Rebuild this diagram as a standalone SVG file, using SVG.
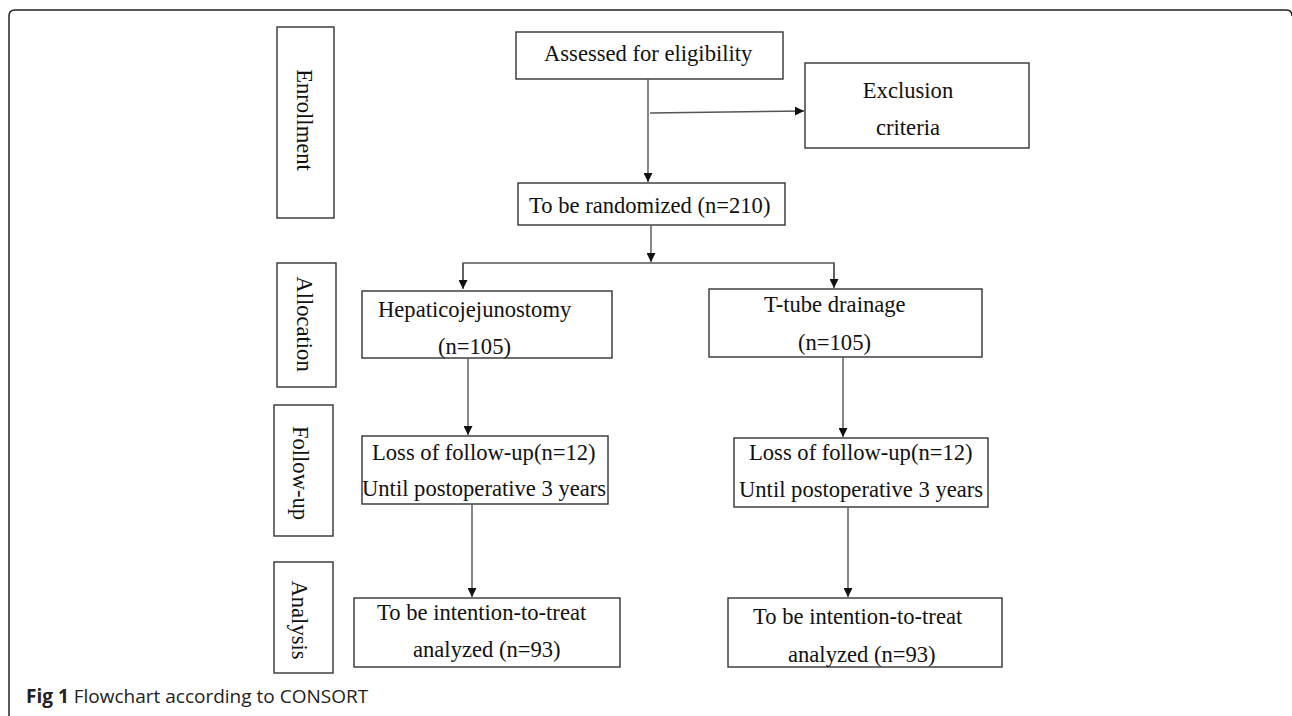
<svg xmlns="http://www.w3.org/2000/svg" width="1292" height="716" viewBox="0 0 1292 716">
<style>
.box{fill:#fff;stroke:#333;stroke-width:1.4}
.t{font-family:"Liberation Serif","Times New Roman",serif;font-size:22.6px;fill:#111}
.m{text-anchor:middle}
.ln{fill:none;stroke:#555;stroke-width:1.4}
.cap{font-family:"Open Sans","Liberation Sans",sans-serif;font-size:19px;fill:#222}
</style>
<defs>
<marker id="ah" viewBox="0 0 10 10" refX="10" refY="5" markerWidth="9" markerHeight="9" markerUnits="userSpaceOnUse" orient="auto">
<path d="M0,0 L10,5 L0,10 Z" fill="#111"/>
</marker>
</defs>
<rect width="1292" height="716" fill="#fff"/>
<path d="M9,716 V16 Q9,10 15,10 H1286 Q1292,10 1292,16" fill="none" stroke="#222" stroke-width="1.5"/>

<g id="stage-enrollment">
<rect class="box" x="277" y="27" width="57" height="191"/>
<text class="t m" transform="translate(297,120) rotate(90)">Enrollment</text>
</g>
<g id="stage-allocation">
<rect class="box" x="277" y="263" width="59" height="124"/>
<text class="t m" transform="translate(297,324) rotate(90)">Allocation</text>
</g>
<g id="stage-followup">
<rect class="box" x="274" y="405" width="59" height="131"/>
<text class="t m" transform="translate(293,473) rotate(90)">Follow-up</text>
</g>
<g id="stage-analysis">
<rect class="box" x="274" y="562" width="59" height="111"/>
<text class="t m" transform="translate(292,620) rotate(90)">Analysis</text>
</g>

<g id="assessed">
<rect class="box" x="516" y="32" width="267" height="47"/>
<text class="t" x="544" y="61">Assessed for eligibility</text>
</g>
<g id="exclusion">
<rect class="box" x="805" y="63" width="224" height="85"/>
<text class="t m" x="908" y="98">Exclusion</text>
<text class="t m" x="908" y="135">criteria</text>
</g>
<g id="randomized">
<rect class="box" x="518" y="183" width="267" height="42"/>
<text class="t" x="529" y="213">To be randomized (n=210)</text>
</g>
<g id="hepatico">
<rect class="box" x="362" y="291" width="250" height="67"/>
<text class="t" x="378" y="317">Hepaticojejunostomy</text>
<text class="t" x="438" y="354">(n=105)</text>
</g>
<g id="ttube">
<rect class="box" x="709" y="289" width="273" height="68"/>
<text class="t" x="764" y="312">T-tube drainage</text>
<text class="t" x="798" y="350">(n=105)</text>
</g>
<g id="loss-left">
<rect class="box" x="362" y="436" width="246" height="68"/>
<text class="t" x="372" y="460">Loss of follow-up(n=12)</text>
<text class="t" x="362" y="496">Until postoperative 3 years</text>
</g>
<g id="loss-right">
<rect class="box" x="734" y="438" width="254" height="69"/>
<text class="t" x="749" y="460">Loss of follow-up(n=12)</text>
<text class="t" x="739" y="497">Until postoperative 3 years</text>
</g>
<g id="analysis-left">
<rect class="box" x="354" y="598" width="266" height="69"/>
<text class="t" x="377" y="620">To be intention-to-treat</text>
<text class="t" x="413" y="657">analyzed (n=93)</text>
</g>
<g id="analysis-right">
<rect class="box" x="728" y="598" width="274" height="69"/>
<text class="t" x="753" y="624">To be intention-to-treat</text>
<text class="t" x="788" y="662">analyzed (n=93)</text>
</g>

<g id="connectors">
<line class="ln" x1="648" y1="79" x2="648" y2="182" marker-end="url(#ah)"/>
<line class="ln" x1="650" y1="113" x2="804" y2="111" marker-end="url(#ah)"/>
<line class="ln" x1="651" y1="226" x2="651" y2="262" marker-end="url(#ah)"/>
<path class="ln" d="M463,282 V263 H834 V282"/>
<line class="ln" x1="463" y1="263" x2="463" y2="289" marker-end="url(#ah)"/>
<line class="ln" x1="834" y1="263" x2="834" y2="288" marker-end="url(#ah)"/>
<line class="ln" x1="468" y1="358" x2="468" y2="435" marker-end="url(#ah)"/>
<line class="ln" x1="843" y1="357" x2="843" y2="437" marker-end="url(#ah)"/>
<line class="ln" x1="472" y1="504" x2="472" y2="597" marker-end="url(#ah)"/>
<line class="ln" x1="848" y1="507" x2="848" y2="597" marker-end="url(#ah)"/>
</g>

<text class="cap" x="26" y="703"><tspan font-weight="bold">Fig 1</tspan> Flowchart according to CONSORT</text>
</svg>
